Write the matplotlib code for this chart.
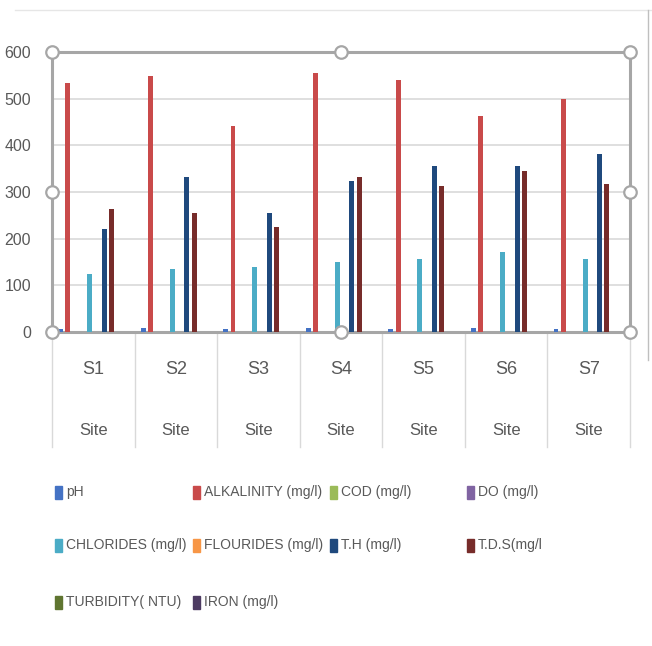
import matplotlib.pyplot as plt
import numpy as np
from matplotlib.patches import Rectangle
from matplotlib.lines import Line2D

sites = ["S1", "S2", "S3", "S4", "S5", "S6", "S7"]

ph = [7.5, 7.6, 7.4, 7.7, 7.5, 7.6, 7.4]
alkalinity = [534, 548, 441, 555, 539, 462, 500]
cod = [0, 0, 0, 0, 0, 0, 0]
do = [0, 0, 0, 0, 0, 0, 0]
chlorides = [124, 135, 140, 150, 156, 172, 156]
flourides = [0, 0, 0, 0, 0, 0, 0]
th = [220, 333, 254, 323, 355, 355, 382]
tds = [264, 255, 226, 333, 312, 344, 318]
turbidity = [0, 0, 0, 0, 0, 0, 0]
iron = [0, 0, 0, 0, 0, 0, 0]

labels = ["pH", "ALKALINITY (mg/l)", "COD (mg/l)", "DO (mg/l)",
          "CHLORIDES (mg/l)", "FLOURIDES (mg/l)", "T.H (mg/l)", "T.D.S(mg/l",
          "TURBIDITY( NTU)", "IRON (mg/l)"]
colores = ["#4472C4", "#C94A4A", "#9BBB59", "#8064A2", "#4BACC6",
           "#F79646", "#1F497D", "#772C2A", "#5F7530", "#4D3B62"]
series = [ph, alkalinity, cod, do, chlorides, flourides, th, tds, turbidity, iron]

GRIS = "#595959"
plt.rcParams["font.family"] = ["Liberation Sans", "DejaVu Sans"]

fig = plt.figure(figsize=(6.52, 6.46), dpi=100)
W, H = 652, 646
ax = fig.add_axes([52 / W, 1 - 332 / H, (630 - 52) / W, (332 - 52) / H])

x = np.arange(len(sites))
paso = 0.088
for k, (vals, col) in enumerate(zip(series, colores)):
    ax.bar(x + (k - 4.5) * paso, vals, width=0.06, color=col, zorder=3)

ax.set_xlim(-0.5, len(sites) - 0.5)
ax.set_ylim(0, 600)
ax.set_yticks(range(0, 601, 100))
ax.tick_params(axis="y", length=0, pad=15, labelsize=11.5, labelcolor=GRIS)
ax.set_xticks([])
ax.grid(axis="y", color="#D9D9D9", linewidth=1.2, zorder=0)

for s in ax.spines.values():
    s.set_color("#A6A6A6")
    s.set_linewidth(2.2)

# etiquetas de categoria en dos niveles
for i, s in enumerate(sites):
    ax.text(i, -0.135, s, transform=ax.get_xaxis_transform(), ha="center",
            va="center", fontsize=13, color=GRIS)
    ax.text(i, -0.35, "Site", transform=ax.get_xaxis_transform(), ha="center",
            va="center", fontsize=12, color=GRIS)
for i in range(len(sites) + 1):
    ax.plot([i - 0.5, i - 0.5], [0, -0.41], transform=ax.get_xaxis_transform(),
            color="#D9D9D9", linewidth=1, clip_on=False)

# manijas de seleccion
for hx, hy in [(0, 0), (0.5, 0), (1, 0), (0, 0.5), (1, 0.5), (0, 1), (0.5, 1), (1, 1)]:
    ax.plot(hx, hy, marker="o", markersize=9, markerfacecolor="white",
            markeredgecolor="#A6A6A6", markeredgewidth=1.6,
            transform=ax.transAxes, clip_on=False, zorder=5)

# borde exterior tenue
fig.add_artist(Line2D([15 / W, 1], [1 - 10 / H, 1 - 10 / H], color="#E6E6E6", linewidth=1))
fig.add_artist(Line2D([648 / W, 648 / W], [1 - 10 / H, 1 - 360 / H], color="#BFBFBF", linewidth=1))

# leyenda
cols_x = [58, 196, 333, 470]
filas_y = [492, 545, 602]
for k, (lab, col) in enumerate(zip(labels, colores)):
    cx = cols_x[k % 4]
    cy = filas_y[k // 4]
    fig.add_artist(Rectangle(((cx - 3) / W, 1 - (cy + 7) / H), 7 / W, 13 / H,
                             color=col, transform=fig.transFigure))
    fig.text((cx + 8) / W, 1 - cy / H, lab, ha="left", va="center",
             fontsize=10, color=GRIS)

fig.savefig("out.png", dpi=100)
